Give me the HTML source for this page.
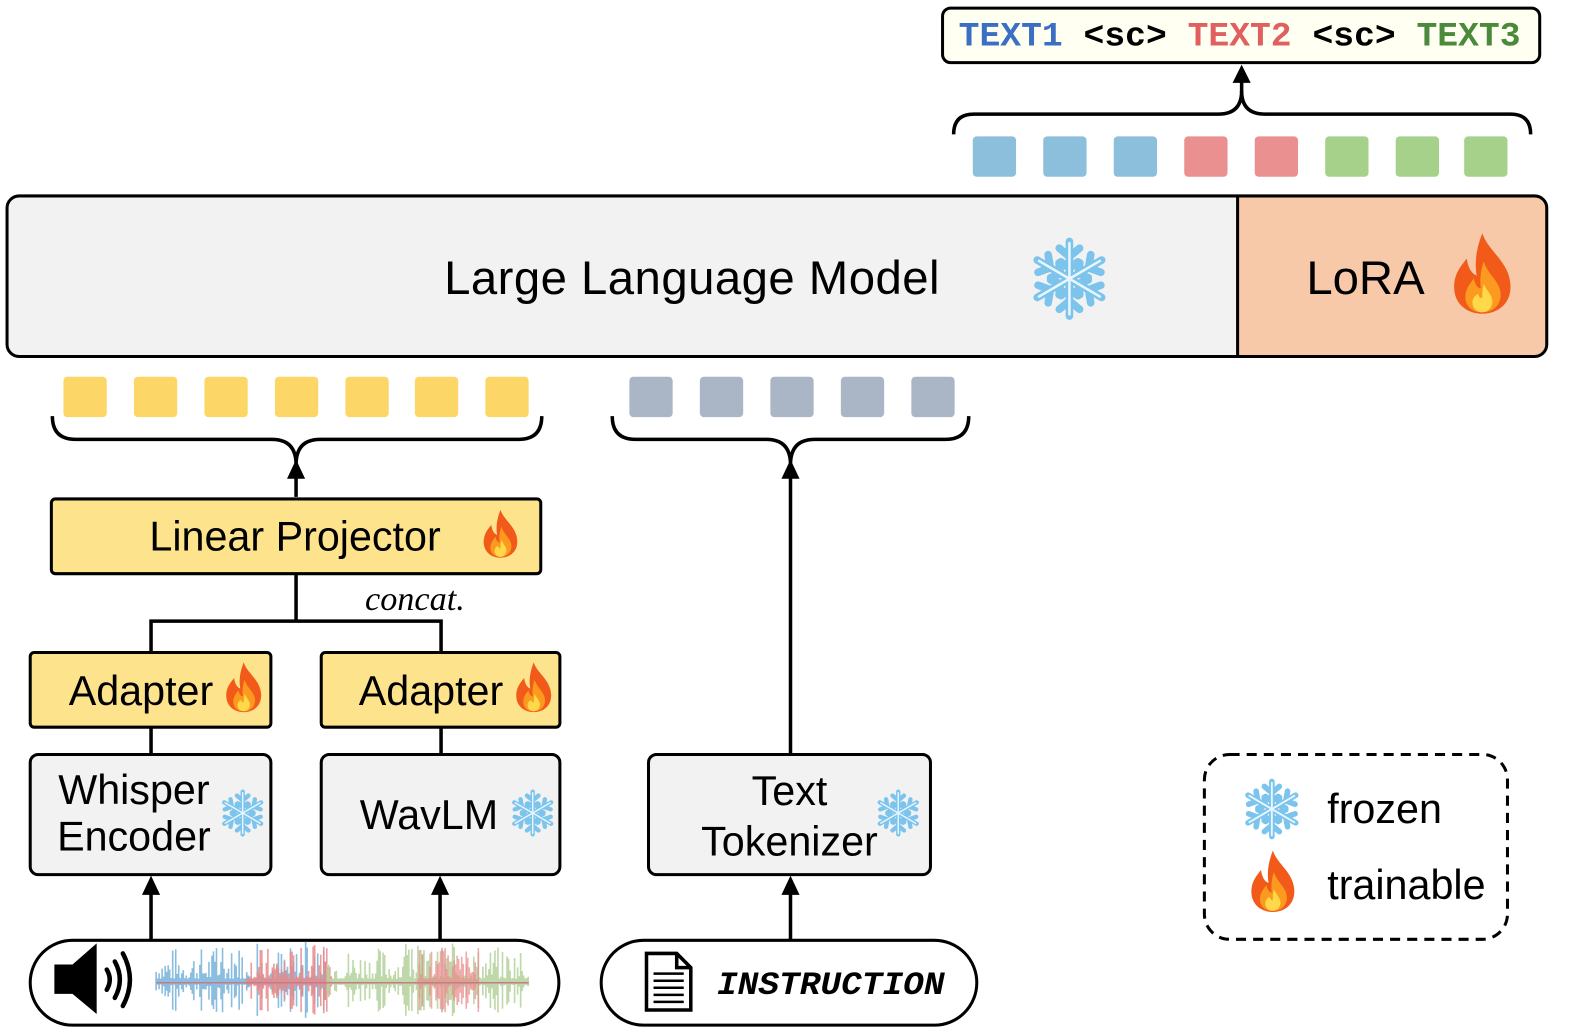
<!DOCTYPE html>
<html><head><meta charset="utf-8"><style>
body{margin:0;background:#fff;}
svg text{font-family:"Liberation Sans",sans-serif;}
</style></head><body>
<svg id="s" width="1578" height="1029" viewBox="0 0 1578 1029" xmlns="http://www.w3.org/2000/svg">
<defs>
<symbol id="snow" viewBox="-50 -50 100 100">
<g stroke="#7cc4ec" stroke-width="9" stroke-linecap="round" fill="none">
<g id="arm"><line x1="0" y1="0" x2="0" y2="-44"/><polyline points="-12,-36 0,-26 12,-36"/><polyline points="-10,-20 0,-12 10,-20"/></g>
<use href="#arm" transform="rotate(60)"/><use href="#arm" transform="rotate(120)"/><use href="#arm" transform="rotate(180)"/><use href="#arm" transform="rotate(240)"/><use href="#arm" transform="rotate(300)"/>
</g>
<g stroke="#e8f6ff" stroke-width="3" stroke-linecap="round" fill="none">
<line x1="0" y1="0" x2="0" y2="-42"/><line x1="0" y1="0" x2="36" y2="-21"/><line x1="0" y1="0" x2="36" y2="21"/><line x1="0" y1="0" x2="0" y2="42"/><line x1="0" y1="0" x2="-36" y2="21"/><line x1="0" y1="0" x2="-36" y2="-21"/>
</g>
</symbol>
<symbol id="fire" viewBox="0 0 100 120">
<path d="M50 4 C58 30 90 45 90 80 C90 104 72 118 50 118 C28 118 10 104 10 80 C10 60 22 48 28 40 C30 55 36 62 42 64 C38 40 44 20 50 4Z" fill="#f25a1a"/>
<path d="M52 44 C58 64 78 74 76 94 C74 108 64 116 50 116 C36 116 26 108 26 94 C26 82 34 74 38 68 C40 78 44 82 48 82 C46 70 48 56 52 44Z" fill="#fb9a1e"/>
<path d="M52 76 C58 88 66 94 64 104 C62 112 56 116 50 116 C42 116 36 110 36 102 C36 96 40 92 44 90 C46 96 48 96 50 96 C50 90 50 84 52 76Z" fill="#ffd94a"/>
</symbol>
</defs>
<g transform="scale(1.007,1.01)">
<!-- output text box -->
<rect x="936" y="8" width="593" height="54" rx="8" fill="#fffff2" stroke="#000" stroke-width="3"/>
<text x="952" y="45" font-weight="bold" font-size="34" textLength="558" lengthAdjust="spacingAndGlyphs" style="font-family:'Liberation Mono',monospace"><tspan fill="#3a6fc4">TEXT1</tspan><tspan fill="#000"> &lt;sc&gt; </tspan><tspan fill="#e06060">TEXT2</tspan><tspan fill="#000"> &lt;sc&gt; </tspan><tspan fill="#4a8a3a">TEXT3</tspan></text>

<g fill="none" stroke="#000" stroke-width="3.5">
<path d="M947 133 Q947 113 967 113 L1210 113 Q1233 113 1233 90 Q1233 113 1256 113 L1500 113 Q1520 113 1520 133"/>
<line x1="1233" y1="92" x2="1233" y2="70"/>
<path d="M52 412 Q52 435 75 435 L270 435 Q294 435 294 460 Q294 435 318 435 L515 435 Q538 435 538 412"/>
<path d="M608 412 Q608 435 631 435 L761 435 Q785 435 785 460 Q785 435 809 435 L939 435 Q962 435 962 412"/>
<line x1="294" y1="492" x2="294" y2="470"/>
<line x1="785" y1="746" x2="785" y2="470"/>
<polyline points="294,568 294,615"/>
<polyline points="150,646 150,615 438,615 438,646"/>
<line x1="150" y1="720" x2="150" y2="747"/>
<line x1="438" y1="720" x2="438" y2="747"/>
<line x1="150" y1="930" x2="150" y2="880"/>
<line x1="437" y1="930" x2="437" y2="880"/>
<line x1="785" y1="930" x2="785" y2="880"/>
</g>
<g fill="#000">
<path d="M1233 64 L1224 82 L1242 82Z"/>
<path d="M294 455 L285 474 L303 474Z"/>
<path d="M785 455 L776 474 L794 474Z"/>
<path d="M150 867 L141 886 L159 886Z"/>
<path d="M437 867 L428 886 L446 886Z"/>
<path d="M785 867 L776 886 L794 886Z"/>
</g>

<g>
<rect x="966" y="135" width="43" height="40" rx="4" fill="#8bbfdc"/>
<rect x="1036" y="135" width="43" height="40" rx="4" fill="#8bbfdc"/>
<rect x="1106" y="135" width="43" height="40" rx="4" fill="#8bbfdc"/>
<rect x="1176" y="135" width="43" height="40" rx="4" fill="#ea9090"/>
<rect x="1246" y="135" width="43" height="40" rx="4" fill="#ea9090"/>
<rect x="1316" y="135" width="43" height="40" rx="4" fill="#a6d18a"/>
<rect x="1386" y="135" width="43" height="40" rx="4" fill="#a6d18a"/>
<rect x="1454" y="135" width="43" height="40" rx="4" fill="#a6d18a"/>
</g>

<path d="M1229 194 L1525 194 Q1536 194 1536 206 L1536 342 Q1536 353 1525 353 L1229 353Z" fill="#f7c9a9"/>
<path d="M1229 194 L18 194 Q7 194 7 206 L7 342 Q7 353 18 353 L1229 353Z" fill="#f2f2f2"/>
<rect x="7" y="194" width="1529" height="159" rx="12" fill="none" stroke="#000" stroke-width="3"/>
<line x1="1229" y1="194" x2="1229" y2="353" stroke="#000" stroke-width="3"/>
<text x="687" y="291" font-size="47" text-anchor="middle" textLength="492">Large Language Model</text>
<use href="#snow" x="1020" y="234" width="84" height="84"/>
<text x="1356" y="291" font-size="47" text-anchor="middle">LoRA</text>
<use href="#fire" x="1437" y="228" width="70" height="84"/>

<g fill="#fcd667">
<rect x="63" y="373" width="43" height="40" rx="4"/><rect x="133" y="373" width="43" height="40" rx="4"/><rect x="203" y="373" width="43" height="40" rx="4"/><rect x="273" y="373" width="43" height="40" rx="4"/><rect x="343" y="373" width="43" height="40" rx="4"/><rect x="412" y="373" width="43" height="40" rx="4"/><rect x="482" y="373" width="43" height="40" rx="4"/>
</g>
<g fill="#aab6c6">
<rect x="625" y="373" width="43" height="40" rx="4"/><rect x="695" y="373" width="43" height="40" rx="4"/><rect x="765" y="373" width="43" height="40" rx="4"/><rect x="835" y="373" width="43" height="40" rx="4"/><rect x="905" y="373" width="43" height="40" rx="4"/>
</g>

<rect x="51" y="494" width="486" height="74" rx="4" fill="#fde38c" stroke="#000" stroke-width="3"/>
<text x="293" y="545" font-size="41" text-anchor="middle">Linear Projector</text>
<use href="#fire" x="476" y="503" width="42" height="50"/>
<text x="412" y="604" font-size="34" font-style="italic" text-anchor="middle" style="font-family:'Liberation Serif',serif">concat.</text>

<rect x="30" y="646" width="239" height="74" rx="4" fill="#fde38c" stroke="#000" stroke-width="3"/>
<text x="140" y="698" font-size="41" text-anchor="middle">Adapter</text>
<use href="#fire" x="220" y="654" width="44" height="52"/>
<rect x="319" y="646" width="237" height="74" rx="4" fill="#fde38c" stroke="#000" stroke-width="3"/>
<text x="428" y="698" font-size="41" text-anchor="middle">Adapter</text>
<use href="#fire" x="508" y="654" width="44" height="52"/>

<rect x="30" y="747" width="239" height="119" rx="8" fill="#f2f2f2" stroke="#000" stroke-width="3"/>
<text x="133" y="796" font-size="41" text-anchor="middle">Whisper</text>
<text x="133" y="842" font-size="41" text-anchor="middle">Encoder</text>
<use href="#snow" x="217" y="781" width="48" height="48"/>
<rect x="319" y="747" width="237" height="119" rx="8" fill="#f2f2f2" stroke="#000" stroke-width="3"/>
<text x="426" y="821" font-size="41" text-anchor="middle">WavLM</text>
<use href="#snow" x="505" y="781" width="48" height="48"/>
<rect x="644" y="747" width="280" height="119" rx="8" fill="#f2f2f2" stroke="#000" stroke-width="3"/>
<text x="784" y="797" font-size="41" text-anchor="middle">Text</text>
<text x="784" y="847" font-size="41" text-anchor="middle">Tokenizer</text>
<use href="#snow" x="868" y="781" width="48" height="48"/>

<rect x="30" y="931" width="525" height="84" rx="42" fill="#fff" stroke="#000" stroke-width="3"/>
<path d="M54 955 L72 955 L96 934 L96 1004 L72 984 L54 984Z" fill="#000"/>
<g fill="none" stroke="#000" stroke-width="4.5" stroke-linecap="round">
<path d="M106 960 Q112 970 106 980"/><path d="M114 952 Q124 970 114 988"/><path d="M122 944 Q136 970 122 996"/>
</g>
<g id="wave"></g>

<rect x="597" y="931" width="373" height="84" rx="42" fill="#fff" stroke="#000" stroke-width="3"/>
<path d="M642 944 L672 944 L686 958 L686 1000 L642 1000Z M672 944 L672 958 L686 958" fill="#fff" stroke="#000" stroke-width="3.5"/>
<g stroke="#000" stroke-width="2.5"><line x1="649" y1="964" x2="679" y2="964"/><line x1="649" y1="971" x2="679" y2="971"/><line x1="649" y1="978" x2="679" y2="978"/><line x1="649" y1="985" x2="679" y2="985"/><line x1="649" y1="992" x2="679" y2="992"/></g>
<text x="825" y="984" font-size="32" font-weight="bold" font-style="italic" text-anchor="middle" textLength="226" lengthAdjust="spacingAndGlyphs" style="font-family:'Liberation Mono',monospace">INSTRUCTION</text>

<rect x="1196" y="747" width="301" height="183" rx="25" fill="none" stroke="#000" stroke-width="3" stroke-dasharray="10,7"/>
<use href="#snow" x="1232" y="770" width="62" height="62"/>
<text x="1318" y="815" font-size="41">frozen</text>
<use href="#fire" x="1237" y="840" width="54" height="64"/>
<text x="1318" y="890" font-size="41">trainable</text>
</g>
</svg>
<script>
(function(){
var g=document.getElementById('wave'),ns='http://www.w3.org/2000/svg';
var seed=7;function r(){seed=(seed*9301+49297)%233280;return seed/233280;}
function layer(x0,x1,col,op){
 var d='';for(var x=x0;x<=x1;x+=1.5){var env=Math.pow(r(),2.2);var h=3+env*32;if(r()<0.05)h=30+r()*10;d+='M'+x+' '+(972-h)+'V'+(972+h*0.9);}
 var p=document.createElementNS(ns,'path');p.setAttribute('d',d);p.setAttribute('stroke',col);p.setAttribute('stroke-width','1.6');p.setAttribute('opacity',op);g.appendChild(p);}
layer(155,325,'#7fb6dc',0.9);
layer(245,330,'#e88a8a',0.85);
layer(325,525,'#b7d4a0',0.9);
layer(415,475,'#e88a8a',0.7);
var l=document.createElementNS(ns,'line');l.setAttribute('x1',155);l.setAttribute('x2',525);l.setAttribute('y1',973);l.setAttribute('y2',973);l.setAttribute('stroke','#c87a8a');l.setAttribute('stroke-width','1.5');g.appendChild(l);
})();
</script>
</body></html>
